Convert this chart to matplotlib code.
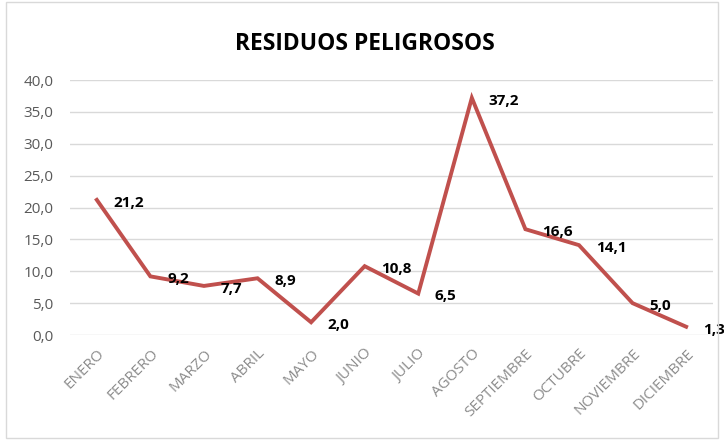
import matplotlib.pyplot as plt
from matplotlib.patches import Rectangle

months = ["ENERO", "FEBRERO", "MARZO", "ABRIL", "MAYO", "JUNIO",
          "JULIO", "AGOSTO", "SEPTIEMBRE", "OCTUBRE", "NOVIEMBRE", "DICIEMBRE"]
values = [21.2, 9.2, 7.7, 8.9, 2.0, 10.8, 6.5, 37.2, 16.6, 14.1, 5.0, 1.3]
yticks = [0, 5, 10, 15, 20, 25, 30, 35, 40]

plt.rcParams["font.family"] = ["Open Sans", "DejaVu Sans"]

fig = plt.figure(figsize=(7.24, 4.4), dpi=100)
ax = fig.add_axes([0.0967, 0.2386, 0.888, 0.5795])

x = list(range(len(months)))
ax.plot(x, values, color="#C0504D", linewidth=2.8, solid_joinstyle="miter")

for xi, v in zip(x, values):
    ax.annotate(f"{v:.1f}".replace(".", ","), (xi, v), xytext=(12, -2),
                textcoords="offset points", ha="left", va="center",
                fontsize=11, fontweight="bold", color="black")

ax.set_xlim(-0.5, len(months) - 0.5)
ax.set_ylim(0, 40)
ax.set_yticks(yticks)
ax.set_yticklabels([f"{t:.1f}".replace(".", ",") for t in yticks],
                   color="#595959", fontsize=11)
ax.set_xticks(x)
ax.set_xticklabels(months, rotation=45, ha="right", rotation_mode="anchor",
                   color="#8C8C8C", fontsize=11)
ax.tick_params(axis="y", length=0, pad=12)
ax.tick_params(axis="x", length=0, pad=8)
ax.grid(axis="y", color="#D9D9D9", linewidth=1)
ax.set_axisbelow(True)
for s in ax.spines.values():
    s.set_visible(False)

fig.text(0.504, 0.9, "RESIDUOS PELIGROSOS", ha="center", va="center",
         fontsize=16.5, fontweight="bold", color="black")

fig.patches.append(Rectangle((0.008, 0.005), 0.984, 0.99, transform=fig.transFigure,
                             fill=False, edgecolor="#D9D9D9", linewidth=1))

fig.savefig("out.png", dpi=100)
